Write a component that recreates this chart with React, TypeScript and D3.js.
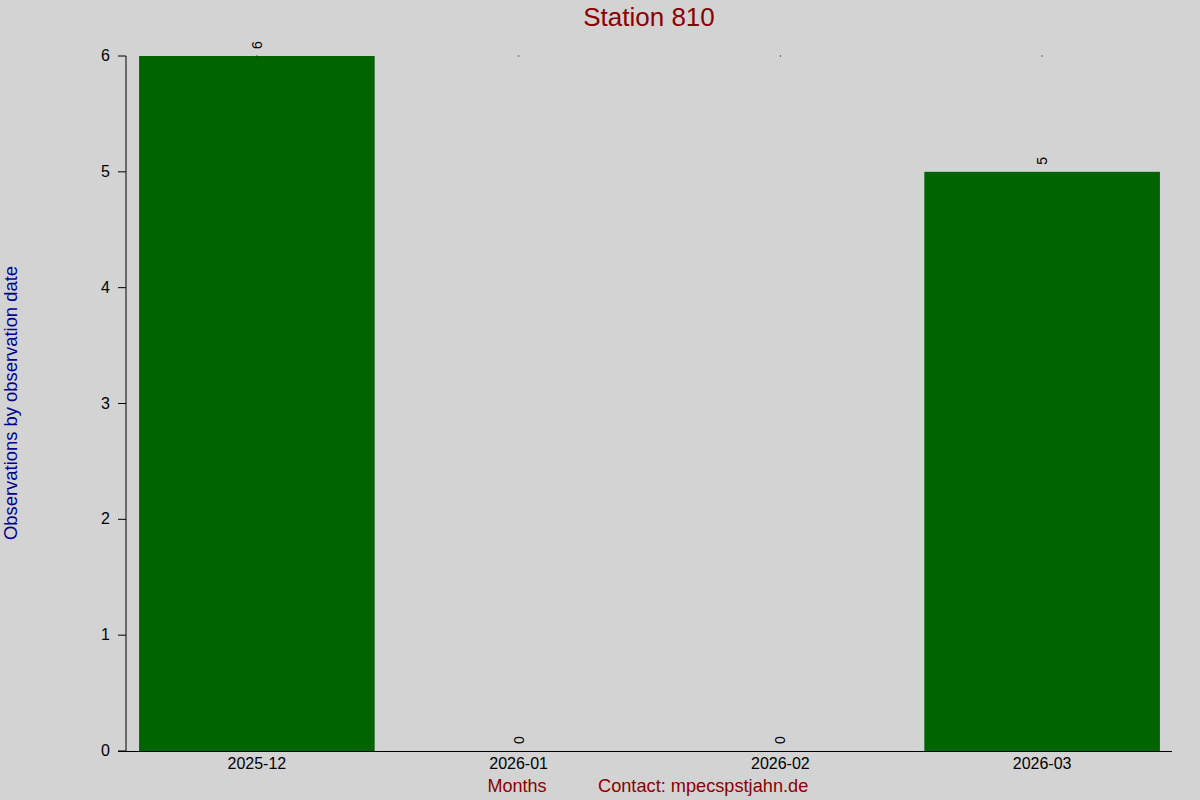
import React from 'react';
import * as d3 from 'd3';

const months = ['2025-12', '2026-01', '2026-02', '2026-03'];
const counts = [6, 0, 0, 5];
const yTicks = [0, 1, 2, 3, 4, 5, 6];

const W = 1200;
const H = 800;
const FONT = '"Liberation Sans", Arial, sans-serif';

const App: React.FC = () => {
  const x = d3.scaleBand<string>()
    .domain(months)
    .range([126, 1173])
    .paddingInner(0.1)
    .paddingOuter(0.05);

  const y = d3.scaleLinear()
    .domain([0, 6])
    .range([751, 56]);

  return (
    <svg width={W} height={H} style={{ position: 'absolute', left: 0, top: 0, background: '#d3d3d3' }} fontFamily={FONT}>
      <rect width={W} height={H} fill="#d3d3d3" />
      <text x={649} y={26} textAnchor="middle" fontSize={26} fill="#8b0000">Station 810</text>

      {/* bars */}
      {months.map((m, i) => (
        <rect key={m} x={x(m)} y={y(counts[i])} width={x.bandwidth()}
          height={y(0) - y(counts[i])} fill="#006400" />
      ))}

      {/* value labels */}
      {months.map((m, i) => {
        const cx = (x(m) as number) + x.bandwidth() / 2;
        const ty = y(counts[i]) - 7;
        return (
          <g key={m}>
            <text transform={`translate(${cx + 5},${ty}) rotate(-90)`} fontSize={14} fill="#000">
              {counts[i]}
            </text>
            <rect x={cx - 0.5} y={y(6) - 0.5} width={1} height={1} fill="#000" />
          </g>
        );
      })}

      {/* y axis */}
      <line x1={126} x2={126} y1={y(6)} y2={y(0)} stroke="#000" />
      {yTicks.map(t => (
        <g key={t}>
          <line x1={118} x2={126} y1={y(t)} y2={y(t)} stroke="#000" />
          <text x={110} y={y(t) + 5} textAnchor="end" fontSize={16} fill="#000">{t}</text>
        </g>
      ))}

      {/* x axis */}
      <line x1={118} x2={1172} y1={y(0) + 0.5} y2={y(0) + 0.5} stroke="#000" />
      {months.map(m => (
        <text key={m} x={(x(m) as number) + x.bandwidth() / 2} y={769} textAnchor="middle"
          fontSize={16} fill="#000">{m}</text>
      ))}

      <text transform={`translate(17,403) rotate(-90)`} textAnchor="middle" fontSize={18.4} fill="#00008b">
        Observations by observation date
      </text>
      <text x={517} y={792} textAnchor="middle" fontSize={18} fill="#8b0000">Months</text>
      <text x={598} y={792} fontSize={18.2} fill="#8b0000">Contact: mpecspstjahn.de</text>
    </svg>
  );
};

export default App;
